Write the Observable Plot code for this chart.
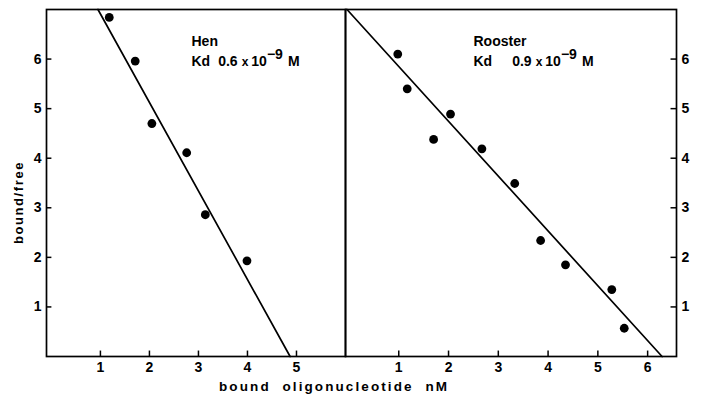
<!DOCTYPE html>
<html><head><meta charset="utf-8">
<script src="https://cdn.jsdelivr.net/npm/d3@7"></script>
<script src="https://cdn.jsdelivr.net/npm/@observablehq/plot@0.6"></script>
<style>
body{margin:0;background:#fff;}
#wrap{position:relative;width:704px;height:395px;font-family:"Liberation Sans",Arial,sans-serif;font-weight:bold;color:#000;}
#left,#right{position:absolute;top:0;}
#left{left:0;} #right{left:345px;}
#xl{position:absolute;top:379px;left:219px;font-size:13.5px;letter-spacing:2.1px;white-space:nowrap;}
#yl{position:absolute;left:-42px;top:195px;width:120px;text-align:center;font-size:13px;letter-spacing:1.6px;transform:rotate(-90deg);white-space:nowrap;}
</style></head>
<body>
<div id="wrap"><div id="left"></div><div id="right"></div>
<div id="yl">bound/free</div><div id="xl">bound&nbsp; oligonucleotide&nbsp; nM</div></div>
<script>
// Hen panel data
const henX = [1.18, 1.71, 2.05, 2.76, 3.14, 3.99];
const henY = [6.84, 5.96, 4.70, 4.11, 2.86, 1.93];
const henFitX = [0.95, 4.87];
const henFitY = [7, 0];
const henKd = "0.6";
// Rooster panel data
const roosterX = [0.98, 1.17, 1.70, 2.04, 2.67, 3.33, 3.85, 4.35, 5.28, 5.53];
const roosterY = [6.10, 5.40, 4.38, 4.89, 4.19, 3.49, 2.34, 1.85, 1.35, 0.57];
const roosterFitX = [-0.04, 6.29];
const roosterFitY = [7, 0];
const roosterKd = "0.9";
// ticks
const henXTicks = [1, 2, 3, 4, 5];
const roosterXTicks = [1, 2, 3, 4, 5, 6];
const yTicks = [1, 2, 3, 4, 5, 6];

const font = {fontFamily: "'Liberation Sans', Arial, sans-serif", fontWeight: "bold", fontSize: "14px", color: "#000", background: "transparent", overflow: "visible"};

function panel({width, marginLeft, marginRight, xDomain, xs, ys, fx, fy, xTicks, yAnchor, name, kd, kdGap, labelDx}) {
  const pts = xs.map((x, i) => ({x, y: ys[i]}));
  const fit = fx.map((x, i) => ({x, y: fy[i]}));
  const yEdge = yAnchor === "left" ? xDomain[0] : xDomain[1];
  const yIn = yAnchor === "left" ? 0.11 : -0.11;
  const chart = Plot.plot({
    width, height: 395, marginLeft, marginRight, marginTop: 9, marginBottom: 39,
    style: font,
    x: {domain: xDomain},
    y: {domain: [0, 7]},
    marks: [
      Plot.frame({stroke: "#000", strokeWidth: 1.7}),
      Plot.axisY(yTicks, {anchor: yAnchor, tickSize: 0, tickPadding: 5, tickFormat: "d", label: null, fontSize: 14}),
      Plot.axisX(xTicks, {anchor: "bottom", tickSize: 0, tickPadding: 6, tickFormat: "d", label: null, fontSize: 14}),
      Plot.ruleY(yTicks, {y: d => d, x1: yEdge, x2: yEdge + yIn, stroke: "#000", strokeWidth: 1.5}),
      Plot.ruleX(xTicks, {x: d => d, y1: 0, y2: 0.11, stroke: "#000", strokeWidth: 1.5}),
      Plot.line(fit, {x: "x", y: "y", stroke: "#000", strokeWidth: 1.7}),
      Plot.dot(pts, {x: "x", y: "y", r: 4.4, fill: "#000", stroke: "none"}),
      Plot.text([name], {frameAnchor: "top-left", dx: labelDx, dy: 36, lineAnchor: "bottom", textAnchor: "start", fontSize: 14, fontWeight: "bold", letterSpacing: "1px"}),
      Plot.text(["Kd"], {frameAnchor: "top-left", dx: labelDx, dy: 56, lineAnchor: "bottom", textAnchor: "start", fontSize: 14, fontWeight: "bold"})
    ]
  });
  // build the Kd line with a superscript exponent
  d3.select(chart).selectAll("text").filter(function() { return this.textContent === "Kd"; }).each(function() {
    const t = d3.select(this);
    t.text(null);
    t.append("tspan").text("Kd");
    t.append("tspan").attr("dx", kdGap).text(kd);
    t.append("tspan").attr("dx", 4).attr("font-size", 12).text("x");
    t.append("tspan").attr("dx", 3).text("10");
    t.append("tspan").attr("dy", -7).attr("font-size", 14).text("\u22129");
    t.append("tspan").attr("dy", 7).attr("dx", 5).text("M");
  });
  return chart;
}

document.getElementById("left").append(panel({
  width: 345, marginLeft: 46, marginRight: 0, xDomain: [-0.1, 6.0],
  xs: henX, ys: henY, fx: henFitX, fy: henFitY, xTicks: henXTicks, yAnchor: "left",
  name: "Hen", kd: henKd, kdGap: 8, labelDx: 145
}));
document.getElementById("right").append(panel({
  width: 359, marginLeft: 0, marginRight: 28, xDomain: [-0.07, 6.58],
  xs: roosterX, ys: roosterY, fx: roosterFitX, fy: roosterFitY, xTicks: roosterXTicks, yAnchor: "right",
  name: "Rooster", kd: roosterKd, kdGap: 20, labelDx: 128
}));
</script>
</body></html>
